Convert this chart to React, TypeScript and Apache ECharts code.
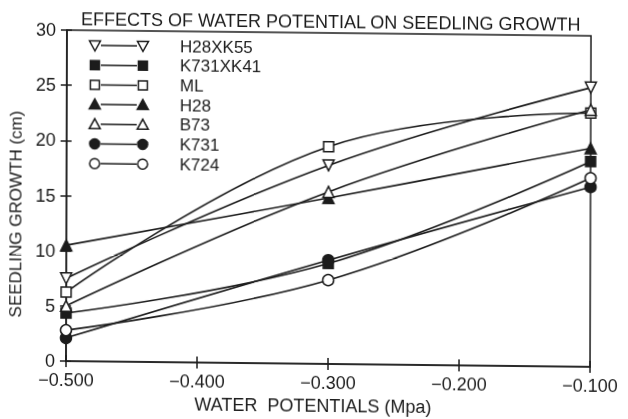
import React, { useEffect, useRef } from "react";
import * as echarts from "echarts";

// ---- data ----
const titleText = "EFFECTS OF WATER POTENTIAL ON SEEDLING GROWTH";
const xAxisName = "WATER  POTENTIALS (Mpa)";
const yAxisName = "SEEDLING GROWTH (cm)";
const xTicks = [-0.5, -0.4, -0.3, -0.2, -0.1];
const yTicks = [0, 5, 10, 15, 20, 25, 30];
const xValues = [-0.5, -0.3, -0.1];

const seriesNames = ["H28XK55", "K731XK41", "ML", "H28", "B73", "K731", "K724"];
const h28xk55 = [7.5, 18.0, 25.3];
const k731xk41 = [4.35, 9.1, 18.6];
const ml = [6.25, 19.7, 23.0];
const h28 = [10.5, 15.05, 19.8];
const b73 = [5.0, 15.6, 23.3];
const k731 = [2.1, 9.4, 16.3];
const k724 = [2.8, 7.6, 17.1];
const seriesValues = [h28xk55, k731xk41, ml, h28, b73, k731, k724];
// marker kind for each series: shape + filled
const seriesShapes = ["triangleDown", "square", "square", "triangleUp", "triangleUp", "circle", "circle"];
const seriesFilled = [false, true, false, true, false, true, false];

const ink = "#1c1c1c";
const font = "Liberation Sans";

function chartSymbol(shape: string) {
  if (shape === "square") return { symbol: "rect", symbolSize: 10, symbolRotate: 0 };
  if (shape === "circle") return { symbol: "circle", symbolSize: 11, symbolRotate: 0 };
  if (shape === "triangleDown") return { symbol: "triangle", symbolSize: 11, symbolRotate: 180 };
  return { symbol: "triangle", symbolSize: 11, symbolRotate: 0 };
}

function legendMarker(shape: string, filled: boolean, x: number, y: number) {
  const style = { fill: filled ? ink : "#fff", stroke: ink, lineWidth: 1.5 };
  if (shape === "square") return { type: "rect", shape: { x: x - 4.5, y: y - 4.5, width: 9, height: 9 }, style };
  if (shape === "circle") return { type: "circle", shape: { cx: x, cy: y, r: 5 }, style };
  if (shape === "triangleDown")
    return { type: "polygon", shape: { points: [[x - 5.5, y - 4.5], [x + 5.5, y - 4.5], [x, y + 5.5]] }, style };
  return { type: "polygon", shape: { points: [[x - 5.5, y + 4.5], [x + 5.5, y + 4.5], [x, y - 5.5]] }, style };
}

export default function App() {
  const ref = useRef<HTMLDivElement>(null);
  useEffect(() => {
    if (!ref.current) return;
    const chart = echarts.init(ref.current, undefined, { renderer: "svg" });

    const series = seriesNames.map((name, i) => {
      const sym = chartSymbol(seriesShapes[i]);
      return {
        name,
        type: "line",
        data: xValues.map((x, j) => [x, seriesValues[i][j]]),
        smooth: 0.4,
        symbol: sym.symbol,
        symbolSize: sym.symbolSize,
        symbolRotate: sym.symbolRotate,
        showSymbol: true,
        lineStyle: { color: ink, width: 1.6 },
        itemStyle: { color: seriesFilled[i] ? ink : "#fff", borderColor: ink, borderWidth: 1.5 },
        emphasis: { disabled: true },
      };
    });

    const legendEls: any[] = [];
    seriesNames.forEach((name, i) => {
      const y = 45 + i * 19.7;
      legendEls.push({ type: "line", shape: { x1: 101, y1: y, x2: 137, y2: y }, style: { stroke: ink, lineWidth: 1.5 } });
      legendEls.push(legendMarker(seriesShapes[i], seriesFilled[i], 95, y));
      legendEls.push(legendMarker(seriesShapes[i], seriesFilled[i], 143, y));
      legendEls.push({
        type: "text",
        x: 180,
        y,
        style: { text: name, fontSize: 17, fontFamily: font, fill: ink, verticalAlign: "middle", align: "left" },
      });
    });

    const xBase = {
      type: "value",
      min: xTicks[0],
      max: xTicks[xTicks.length - 1],
      interval: 0.1,
      splitLine: { show: false },
    };
    const yBase = {
      type: "value",
      min: yTicks[0],
      max: yTicks[yTicks.length - 1],
      interval: 5,
      splitLine: { show: false },
    };

    chart.setOption({
      animation: false,
      backgroundColor: "#fff",
      textStyle: { fontFamily: font, color: ink },
      title: {
        text: titleText,
        left: 76,
        top: 5,
        textStyle: { fontSize: 18, fontWeight: "normal", color: ink, fontFamily: font },
      },
      grid: { left: 60, right: 37, top: 30, bottom: 58, show: true, borderColor: ink, borderWidth: 1.5 },
      xAxis: [
        {
          ...xBase,
          position: "bottom",
          name: xAxisName,
          nameLocation: "middle",
          nameGap: 33,
          nameTextStyle: { fontSize: 18, color: ink, fontFamily: font, padding: [0, 30, 0, 0] },
          axisLine: { show: true, lineStyle: { color: ink, width: 1.5 } },
          axisTick: { show: true, inside: false, length: 6, lineStyle: { color: ink, width: 1.5 } },
          axisLabel: {
            show: true,
            margin: 10,
            fontSize: 18,
            color: ink,
            fontFamily: font,
            formatter: (v: number) => (v < 0 ? "\u2212" : "") + Math.abs(v).toFixed(3),
          },
        },
        {
          ...xBase,
          position: "bottom",
          axisLine: { show: false },
          axisTick: { show: true, inside: true, length: 6, lineStyle: { color: ink, width: 1.5 } },
          axisLabel: { show: false },
        },
      ],
      yAxis: [
        {
          ...yBase,
          position: "left",
          name: yAxisName,
          nameLocation: "middle",
          nameGap: 35,
          nameTextStyle: { fontSize: 17, color: ink, fontFamily: font, padding: [0, 38, 0, 0] },
          axisLine: { show: true, lineStyle: { color: ink, width: 1.5 } },
          axisTick: { show: true, inside: false, length: 6, lineStyle: { color: ink, width: 1.5 } },
          axisLabel: { show: true, margin: 11, fontSize: 18, color: ink, fontFamily: font },
        },
        {
          ...yBase,
          position: "left",
          axisLine: { show: false },
          axisTick: { show: true, inside: true, length: 5, lineStyle: { color: ink, width: 1.5 } },
          axisLabel: { show: false },
        },
      ],
      series,
      graphic: legendEls,
    });

    return () => chart.dispose();
  }, []);

  return (
    <div
      ref={ref}
      style={{
        position: "fixed",
        left: 0,
        top: 0,
        width: 628,
        height: 419,
        background: "#fff",
        transform: "matrix(1, 0.011, -0.003, 1, 0, 0)",
        transformOrigin: "60px 30px",
      }}
    />
  );
}
